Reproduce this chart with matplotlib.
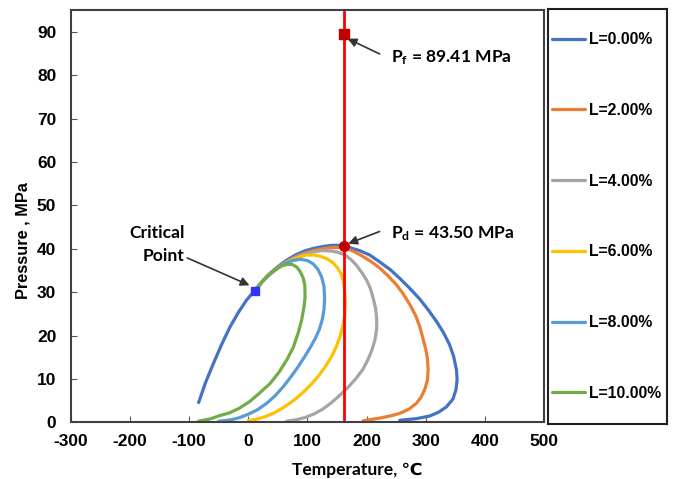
import numpy as np
import matplotlib
matplotlib.use("Agg")
import matplotlib.pyplot as plt

plt.rcParams['font.family'] = ['Liberation Sans', 'DejaVu Sans']
plt.rcParams['axes.unicode_minus'] = False
plt.rcParams['mathtext.fontset'] = 'custom'
plt.rcParams['mathtext.rm'] = 'Lato:bold'
plt.rcParams['mathtext.bf'] = 'Lato:bold'

# phase envelope curves (temperature in C, pressure in MPa)
t_l0 = [-84, -72, -59, -45, -31, -17, -3, 11, 24, 37, 51, 65, 80, 95, 110, 125, 140, 155, 163,
        188, 205, 222, 240, 256, 273, 290, 305, 318, 330, 340, 347, 352, 353, 351, 346, 335,
        322, 307, 285, 256]
p_l0 = [4.6, 9.3, 13.6, 18.0, 22.0, 25.3, 28.2, 30.4, 32.5, 34.4, 36.0, 37.4, 38.6, 39.5, 40.1,
        40.5, 40.8, 40.8, 40.6, 39.6, 38.6, 37.0, 35.2, 33.2, 30.9, 28.4, 25.8, 23.3, 20.7, 18.0,
        15.3, 12.1, 9.8, 7.5, 5.4, 3.6, 2.4, 1.5, 0.9, 0.5]

t_l2 = [11, 24, 37, 51, 65, 80, 95, 110, 125, 140, 155, 163, 175, 188, 205, 222, 236, 250, 262,
        273, 283, 290, 295, 300, 303, 304, 303, 298, 292, 284, 272, 256, 240, 222, 208, 194]
p_l2 = [30.4, 32.5, 34.3, 35.8, 37.1, 38.2, 39.0, 39.6, 40.0, 40.3, 40.3, 40.2, 39.6, 38.7, 37.3,
        35.6, 33.8, 31.8, 29.6, 27.2, 24.6, 22.0, 19.5, 16.9, 14.5, 12.1, 9.8, 7.5, 5.8, 4.4,
        3.1, 2.1, 1.5, 1.0, 0.7, 0.4]

t_l4 = [11, 24, 37, 51, 65, 80, 95, 110, 125, 140, 152, 163, 173, 183, 192, 200, 206, 211, 215,
        217, 217, 214, 209, 202, 194, 183, 170, 155, 140, 125, 110, 95, 80, 65]
p_l4 = [30.4, 32.5, 34.3, 35.8, 37.0, 38.0, 38.8, 39.3, 39.6, 39.5, 39.2, 38.6, 37.6, 36.2, 34.5,
        32.8, 31.0, 28.7, 26.4, 24.1, 21.5, 19.0, 16.7, 14.4, 12.3, 10.3, 8.3, 6.3, 4.5, 3.0,
        1.9, 1.1, 0.6, 0.3]

t_l6 = [11, 24, 37, 51, 65, 80, 95, 110, 122, 133, 143, 151, 157, 161, 163, 164, 163, 160, 155,
        148, 140, 130, 118, 105, 90, 75, 60, 45, 30, 15, 0]
p_l6 = [30.4, 32.5, 34.2, 35.6, 36.8, 37.8, 38.5, 38.6, 38.3, 37.7, 36.8, 35.6, 34.2, 32.4, 30.2,
        27.5, 24.7, 22.3, 19.8, 17.2, 15.0, 12.8, 10.6, 8.6, 6.6, 4.9, 3.5, 2.3, 1.4, 0.8, 0.4]

t_l8 = [11, 24, 37, 50, 62, 75, 88, 100, 110, 118, 124, 128, 129, 128, 125, 120, 113, 104, 94,
        84, 73, 60, 45, 30, 15, 0, -15, -30, -50]
p_l8 = [30.4, 32.5, 34.2, 35.6, 36.6, 37.3, 37.6, 37.3, 36.5, 35.2, 33.5, 31.3, 28.5, 26.0, 23.7,
        21.4, 19.3, 17.1, 14.9, 12.8, 10.7, 8.4, 6.1, 4.3, 2.9, 1.9, 1.1, 0.6, 0.3]

t_l10 = [11, 22, 33, 44, 55, 65, 74, 82, 88, 93, 95.6, 96, 94, 90, 84, 76, 65, 52, 37, 20, 3,
         -15, -32, -48, -65, -84]
p_l10 = [30.4, 32.2, 33.9, 35.1, 36.0, 36.4, 36.4, 35.8, 34.7, 33.2, 31.5, 29.0, 26.5, 23.5, 20.5,
         17.3, 14.4, 11.6, 9.0, 6.9, 4.9, 3.3, 2.2, 1.6, 0.8, 0.3]

labels = ['L=0.00%', 'L=2.00%', 'L=4.00%', 'L=6.00%', 'L=8.00%', 'L=10.00%']
colors = ['#4472C4', '#ED7D31', '#A5A5A5', '#FFC000', '#5B9BD5', '#70AD47']
curves = [(t_l0, p_l0), (t_l2, p_l2), (t_l4, p_l4), (t_l6, p_l6), (t_l8, p_l8), (t_l10, p_l10)]

t_res = 162
crit_t, crit_p = 11, 30.4
pd_val = 40.6
pf_val = 89.5

fig = plt.figure(figsize=(6.75, 4.79), dpi=100)
ax = fig.add_axes([0.105, 0.118, 0.701, 0.861])

lines = []
for (t, p), c, lab in zip(curves, colors, labels):
    ln, = ax.plot(t, p, color=c, lw=2.3, label=lab, solid_capstyle='round', solid_joinstyle='round')
    lines.append(ln)

ax.axvline(t_res, color='#FF0000', lw=2)
ax.plot(crit_t, crit_p, 's', color='#3333FF', ms=6)
ax.plot(t_res, pd_val, 'o', color='#C00000', ms=7)
ax.plot(t_res, pf_val, 's', color='#C00000', ms=6.5)

lato = ['Lato', 'DejaVu Sans']
arrow = dict(arrowstyle='-|>', color='#333333', lw=1.2, mutation_scale=13, shrinkA=0, shrinkB=0)
ax.annotate('Critical\nPoint', xy=(2, 31.6), xytext=(-108, 41.0), ha='right', va='center',
            multialignment='right', fontsize=12.6, fontweight='bold', family=lato,
            linespacing=1.55, arrowprops=arrow)
ax.annotate('', xy=(169, 41.2), xytext=(222, 44.0), arrowprops=arrow)
ax.text(242, 43.4, r'$\mathrm{P_d}$ = 43.50 MPa', fontsize=12.6, fontweight='bold',
        family=lato, va='center')
ax.annotate('', xy=(168, 88.4), xytext=(222, 84.9), arrowprops=arrow)
ax.text(241, 84.0, r'$\mathrm{P_f}$ = 89.41 MPa', fontsize=12.6, fontweight='bold',
        family=lato, va='center')

ax.set_xlim(-300, 500)
ax.set_ylim(0, 95)
ax.set_xticks(np.arange(-300, 501, 100))
ax.set_yticks(np.arange(0, 91, 10))
ax.tick_params(direction='in', length=4, color='#595959', labelsize=12.5)
ax.tick_params(axis='y', pad=10.5)
ax.tick_params(axis='x', pad=8.5)
for lab in ax.get_xticklabels() + ax.get_yticklabels():
    lab.set_fontweight('bold')
for s in ax.spines.values():
    s.set_color('#404040')
    s.set_linewidth(1.5)

ax.set_xlabel('Temperature, ℃', fontsize=12.5, fontweight='bold', family=lato)
ax.xaxis.set_label_coords(0.605, -0.095)
ax.set_ylabel('Pressure , MPa', fontsize=11.8, fontweight='bold')
ax.yaxis.set_label_coords(-0.086, 0.44)

lax = fig.add_axes([0.812, 0.115, 0.176, 0.866])
lax.set_xticks([])
lax.set_yticks([])
for s in lax.spines.values():
    s.set_color('#202020')
    s.set_linewidth(1.5)
lax.legend(handles=lines, loc='center left', bbox_to_anchor=(0.03, 0.5), frameon=False,
           labelspacing=3.55, handlelength=2.1, handletextpad=0.25, borderaxespad=0.0,
           borderpad=0.0, prop={'weight': 'bold', 'size': 11.3})

fig.savefig('out.png', dpi=100)
